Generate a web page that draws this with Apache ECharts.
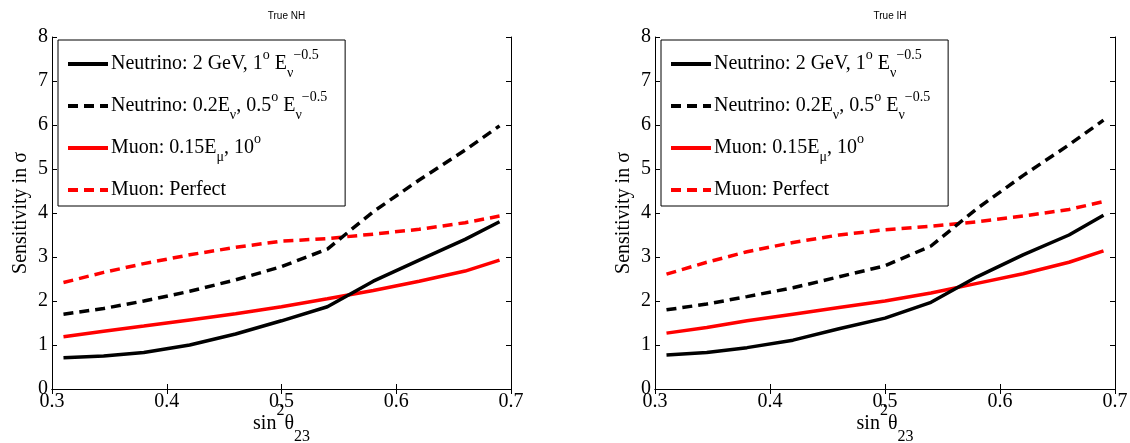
<!DOCTYPE html>
<html>
<head>
<meta charset="utf-8">
<script src="https://cdn.jsdelivr.net/npm/echarts@6/dist/echarts.min.js"></script>
<style>
  html, body { margin: 0; padding: 0; background: #fff; }
  #chart { width: 1130px; height: 443px; }
</style>
</head>
<body>
<div id="chart"></div>
<script>
// sin^2 theta23 sample points
var xs = [0.31, 0.345, 0.38, 0.42, 0.46, 0.5, 0.54, 0.58, 0.62, 0.66, 0.69];

// True NH
var nhNuFixed   = [0.71, 0.75, 0.83, 1.00, 1.25, 1.55, 1.87, 2.45, 2.93, 3.40, 3.80];
var nhNuScaled  = [1.70, 1.83, 2.00, 2.22, 2.48, 2.78, 3.18, 4.03, 4.75, 5.43, 5.98];
var nhMuon      = [1.19, 1.31, 1.43, 1.57, 1.71, 1.87, 2.05, 2.24, 2.45, 2.68, 2.93];
var nhMuPerfect = [2.42, 2.65, 2.85, 3.05, 3.22, 3.36, 3.42, 3.52, 3.63, 3.78, 3.93];

// True IH
var ihNuFixed   = [0.77, 0.83, 0.94, 1.11, 1.37, 1.61, 1.97, 2.55, 3.05, 3.50, 3.95];
var ihNuScaled  = [1.80, 1.93, 2.10, 2.30, 2.55, 2.80, 3.25, 4.10, 4.85, 5.55, 6.11];
var ihMuon      = [1.27, 1.40, 1.55, 1.70, 1.85, 2.00, 2.18, 2.40, 2.62, 2.88, 3.14];
var ihMuPerfect = [2.61, 2.88, 3.12, 3.33, 3.50, 3.62, 3.70, 3.80, 3.93, 4.08, 4.26];

var panelTitles = ['True NH', 'True IH'];
var seriesNames = ['nuFixed', 'nuScaled', 'muon', 'muPerfect'];
var legendText = {
  nuFixed: 'Neutrino: 2 GeV, 1{sup|o} E{sub|ν}{sup|−0.5}',
  nuScaled: 'Neutrino: 0.2E{sub|ν}, 0.5{sup|o} E{sub|ν}{sup|−0.5}',
  muon: 'Muon: 0.15E{sub|μ}, 10{sup|o}',
  muPerfect: 'Muon: Perfect'
};

var serif = '"Liberation Serif", "DejaVu Serif", serif';
var richText = {
  sup: { fontSize: 14, fontFamily: serif, color: '#000', verticalAlign: 'top', lineHeight: 14 },
  sub: { fontSize: 14, fontFamily: serif, color: '#000', verticalAlign: 'bottom', lineHeight: 14 }
};

function pairs(ys) {
  return xs.map(function (x, i) { return [x, ys[i]]; });
}

var myChart = echarts.init(document.getElementById('chart'));

var grids = [
  { left: 52, right: 619, top: 37, bottom: 54, containLabel: false, outerBoundsMode: 'none' },
  { left: 655, right: 15, top: 37, bottom: 54, containLabel: false, outerBoundsMode: 'none' }
];

var xAxes = [], yAxes = [], series = [], titles = [], legends = [];
var panels = [
  [nhNuFixed, nhNuScaled, nhMuon, nhMuPerfect],
  [ihNuFixed, ihNuScaled, ihMuon, ihMuPerfect]
];
var styles = [
  { color: '#000000', type: 'solid' },
  { color: '#000000', type: [10, 6] },
  { color: '#ff0000', type: 'solid' },
  { color: '#ff0000', type: [10, 6] }
];

panels.forEach(function (panel, g) {
  // bottom x axis
  xAxes.push({
    type: 'value', gridIndex: g, min: 0.3, max: 0.7, interval: 0.1, position: 'bottom',
    axisLine: { lineStyle: { color: '#000', width: 1 } },
    axisTick: { inside: true, length: 5, lineStyle: { color: '#000' } },
    axisLabel: { color: '#000', fontSize: 20, fontFamily: serif, margin: 3,
      formatter: function (v) { return v.toFixed(1); } },
    splitLine: { show: false },
    name: 'sin{sup|2}θ{sub|23}', nameLocation: 'middle', nameGap: 14,
    nameMoveOverlap: false,
    nameTextStyle: { color: '#000', fontSize: 20, fontFamily: serif, lineHeight: 42,
      rich: {
        sup: { fontSize: 16, fontFamily: serif, color: '#000', verticalAlign: 'top', lineHeight: 16 },
        sub: { fontSize: 16, fontFamily: serif, color: '#000', verticalAlign: 'bottom', lineHeight: 16 }
      } }
  });
  // top x axis (box)
  xAxes.push({
    type: 'value', gridIndex: g, min: 0.3, max: 0.7, interval: 0.1, position: 'top',
    axisLine: { lineStyle: { color: '#000', width: 1 } },
    axisTick: { inside: true, length: 5, lineStyle: { color: '#000' } },
    axisLabel: { show: false }, splitLine: { show: false }
  });
  yAxes.push({
    type: 'value', gridIndex: g, min: 0, max: 8, interval: 1, position: 'left',
    axisLine: { show: true, lineStyle: { color: '#000', width: 1 } },
    axisTick: { show: true, inside: true, length: 5, lineStyle: { color: '#000' } },
    axisLabel: { color: '#000', fontSize: 20, fontFamily: serif, margin: 4 },
    splitLine: { show: false },
    name: 'Sensitivity in σ', nameLocation: 'middle', nameGap: 21,
    nameMoveOverlap: false,
    nameTextStyle: { color: '#000', fontSize: 20, fontFamily: serif }
  });
  yAxes.push({
    type: 'value', gridIndex: g, min: 0, max: 8, interval: 1, position: 'right',
    axisLine: { show: true, lineStyle: { color: '#000', width: 1 } },
    axisTick: { show: true, inside: true, length: 5, lineStyle: { color: '#000' } },
    axisLabel: { show: false }, splitLine: { show: false }
  });

  panel.forEach(function (ys, k) {
    series.push({
      name: seriesNames[k],
      type: 'line',
      xAxisIndex: g * 2,
      yAxisIndex: g * 2,
      data: pairs(ys),
      symbol: 'none',
      smooth: false,
      animation: false,
      lineStyle: { color: styles[k].color, type: styles[k].type, width: 3.5 },
      itemStyle: { color: styles[k].color },
      z: 4 - k
    });
  });

  titles.push({
    text: panelTitles[g],
    left: (grids[g].left + (g === 0 ? 511 : 1115)) / 2,
    textAlign: 'center',
    top: 6,
    textStyle: { fontSize: 10, fontWeight: 'normal', color: '#000',
      fontFamily: '"Liberation Sans", Arial, sans-serif' }
  });

  legends.push({
    data: seriesNames,
    orient: 'vertical',
    left: grids[g].left + 6,
    top: 40,
    itemWidth: 40,
    itemHeight: 14,
    itemGap: 10,
    padding: [8, 18, 0, 8],
    backgroundColor: '#fff',
    borderColor: '#000',
    borderWidth: 1,
    selectedMode: false,
    lineStyle: { width: 4 },
    itemStyle: { color: 'transparent', borderWidth: 0, opacity: 0 },
    formatter: function (name) { return legendText[name]; },
    textStyle: { color: '#000', fontSize: 20, fontFamily: serif, padding: [0, 0, 0, -2],
      lineHeight: 32, rich: richText }
  });
});

myChart.setOption({
  animation: false,
  title: titles,
  legend: legends,
  grid: grids,
  xAxis: xAxes,
  yAxis: yAxes,
  series: series
}, true);
</script>
</body>
</html>
